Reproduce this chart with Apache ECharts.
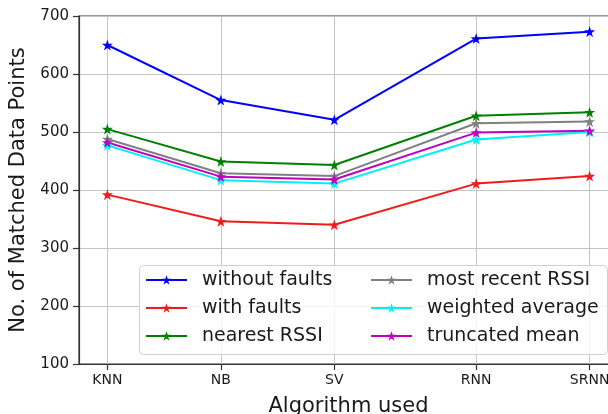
<!DOCTYPE html>
<html>
<head>
<meta charset="utf-8">
<script src="https://cdn.jsdelivr.net/npm/echarts@6/dist/echarts.min.js"></script>
<style>
  html, body { margin: 0; padding: 0; background: #fff; }
  #chart { width: 608px; height: 414px; }
</style>
</head>
<body>
<div id="chart"></div>
<script>
// Algorithms on the x axis and where each one sits along it
const categories = ['KNN', 'NB', 'SV', 'RNN', 'SRNN'];
const positions = [0, 1, 2, 3.25, 4.25];

// Matched data points per algorithm
const withoutFaults = [650, 555, 521, 661, 673];
const withFaults = [392, 346, 340, 411, 424];
const nearestRssi = [505, 449, 443, 528, 534];
const mostRecentRssi = [488, 429, 424, 515, 518];
const weightedAverage = [477, 417, 411, 487, 500];
const truncatedMean = [482, 423, 418, 499, 502];

const yTicks = [100, 200, 300, 400, 500, 600, 700];

const FONT = 'DejaVu Sans';
const INK = '#1a1a1a';
// five-pointed star marker
const STAR = 'path://M50,0 L61.8,35.1 L98.9,35.1 L68.8,56.8 L80.3,91.9 L50,70.2 L19.7,91.9 L31.2,56.8 L1.1,35.1 L38.2,35.1 Z';

const seriesDefs = [
  { name: 'without faults', data: withoutFaults, color: '#0000ff' },
  { name: 'with faults', data: withFaults, color: '#ee1c1c' },
  { name: 'nearest RSSI', data: nearestRssi, color: '#008000' },
  { name: 'most recent RSSI', data: mostRecentRssi, color: '#808080' },
  { name: 'weighted average', data: weightedAverage, color: '#00f0f0' },
  { name: 'truncated mean', data: truncatedMean, color: '#c000c0' }
];

function pairs(values) {
  return values.map((v, i) => [positions[i], v]);
}

const legendCommon = {
  orient: 'vertical',
  padding: 0,
  itemGap: 8,
  itemWidth: 41,
  itemHeight: 12,
  selectedMode: false,
  textStyle: { fontFamily: FONT, fontSize: 19, color: INK, padding: [0, 0, 0, 10], lineHeight: 20 }
};

const option = {
  animation: false,
  backgroundColor: '#fff',
  grid: {
    left: 79, top: 16, width: 539, height: 348,
    outerBoundsMode: 'none',
    containLabel: false,
    show: true, borderColor: '#333', borderWidth: 1.2, backgroundColor: 'transparent'
  },
  xAxis: {
    type: 'value',
    min: -0.25,
    max: 4.5,
    name: 'Algorithm used',
    nameLocation: 'middle',
    nameGap: 32,
    nameTextStyle: { fontFamily: FONT, fontSize: 21, color: INK, verticalAlign: 'top' },
    axisLine: { show: true, onZero: false, lineStyle: { color: '#333', width: 1.2 } },
    axisTick: { show: true, customValues: positions, length: 6, lineStyle: { color: '#333', width: 1.2 } },
    axisLabel: {
      customValues: positions,
      margin: 9,
      fontFamily: FONT, fontSize: 14, color: INK,
      formatter: v => {
        const i = positions.indexOf(v);
        return i >= 0 ? categories[i] : '';
      }
    },
    splitLine: { show: true, lineStyle: { color: '#c4c4c4', width: 1 } }
  },
  yAxis: {
    type: 'value',
    min: yTicks[0],
    max: yTicks[yTicks.length - 1],
    interval: 100,
    name: 'No. of Matched Data Points',
    nameLocation: 'middle',
    nameGap: 50,
    nameTextStyle: { fontFamily: FONT, fontSize: 21, color: INK },
    axisLine: { show: true, onZero: false, lineStyle: { color: '#333', width: 1.2 } },
    axisTick: { show: true, length: 6, lineStyle: { color: '#333', width: 1.2 } },
    axisLabel: { margin: 10, fontFamily: FONT, fontSize: 15, color: INK },
    splitLine: { show: true, lineStyle: { color: '#c4c4c4', width: 1 } }
  },
  legend: [
    Object.assign({}, legendCommon, { left: 145, top: 270, data: seriesDefs.slice(0, 3).map(s => s.name) }),
    Object.assign({}, legendCommon, { left: 370, top: 270, data: seriesDefs.slice(3).map(s => s.name) })
  ],
  graphic: [{
    type: 'rect',
    z: 3,
    shape: { x: 139.5, y: 265.5, width: 468, height: 89, r: 4 },
    style: { fill: 'rgba(255,255,255,0.8)', stroke: '#cfcfcf', lineWidth: 1 }
  }],
  series: seriesDefs.map(s => ({
    name: s.name,
    type: 'line',
    data: pairs(s.data),
    symbol: STAR,
    symbolSize: 11,
    showSymbol: true,
    lineStyle: { color: s.color, width: 2 },
    itemStyle: { color: s.color },
    emphasis: { disabled: true }
  }))
};

const chart = echarts.init(document.getElementById('chart'), null, { renderer: 'canvas' });
chart.setOption(option);
</script>
</body>
</html>
